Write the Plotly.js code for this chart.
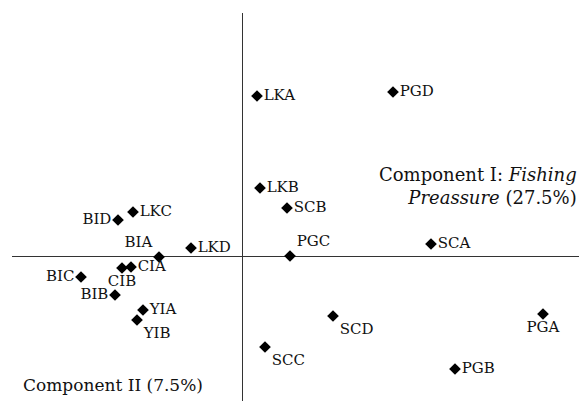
<!DOCTYPE html>
<html><head><meta charset="utf-8">
<script src="https://cdn.plot.ly/plotly-3.0.1.min.js"></script>
<style>html,body{margin:0;padding:0;background:#fff}#plot{width:579px;height:401px}</style>
</head><body><div id="plot"></div>
<script>
const sites = ["LKA","PGD","LKB","SCB","PGC","SCA","BID","LKC","LKD","BIA","CIA","CIB","BIC","BIB","YIA","YIB","SCD","SCC","PGB","PGA"];
const compI  = [0.15, 1.51, 0.18, 0.45, 0.48, 1.89, -1.24, -1.09, -0.51, -0.83, -1.11, -1.20, -1.61, -1.27, -0.99, -1.05, 0.91, 0.23, 2.13, 3.01];
const compII = [1.60, 1.64, 0.68, 0.48, 0.00, 0.12, 0.36, 0.44, 0.08, -0.01, -0.11, -0.12, -0.21, -0.39, -0.54, -0.64, -0.60, -0.91, -1.13, -0.58];
const xTitle = "Component I: <i>Fishing</i><br><i>Preassure</i> (27.5%)";
const yTitle = "Component II (7.5%)";

const labelPos = {BID:"middle left", BIC:"middle left", BIB:"middle left", BIA:"top left", CIB:"bottom center",
  YIB:"bottom right", PGC:"top right", SCC:"bottom right", SCD:"bottom right", PGA:"bottom center"};
const FONT = "DejaVu Serif";
const trace = {
  x: compI, y: compII, text: sites, mode: "markers+text", type: "scatter",
  marker: {symbol: "diamond", size: 9, color: "#000"},
  textposition: sites.map(s => labelPos[s] || "middle right"),
  textfont: {family: FONT, size: 15, color: "#111"},
  cliponaxis: false, hoverinfo: "none"
};
const layout = {
  width: 579, height: 401, showlegend: false,
  margin: {l: 12, r: 0, t: 13, b: 0},
  paper_bgcolor: "#fff", plot_bgcolor: "#fff",
  xaxis: {range: [-2.30, 3.37], showgrid: false, showticklabels: false, ticks: "", zeroline: true, zerolinecolor: "#333", zerolinewidth: 1, showline: false},
  yaxis: {range: [-1.45, 2.43], showgrid: false, showticklabels: false, ticks: "", zeroline: true, zerolinecolor: "#333", zerolinewidth: 1, showline: false},
  annotations: [
    {xref: "paper", yref: "paper", x: 1, y: 0.553, xanchor: "right", yanchor: "middle", align: "right", showarrow: false,
     text: xTitle, font: {family: FONT, size: 18, color: "#111"}},
    {xref: "paper", yref: "paper", x: 0.340, y: 0.041, xanchor: "right", yanchor: "middle", align: "right", showarrow: false,
     text: yTitle, font: {family: FONT, size: 17, color: "#111"}}
  ]
};
Plotly.newPlot("plot", [trace], layout, {displayModeBar: false, staticPlot: true});
</script></body></html>
